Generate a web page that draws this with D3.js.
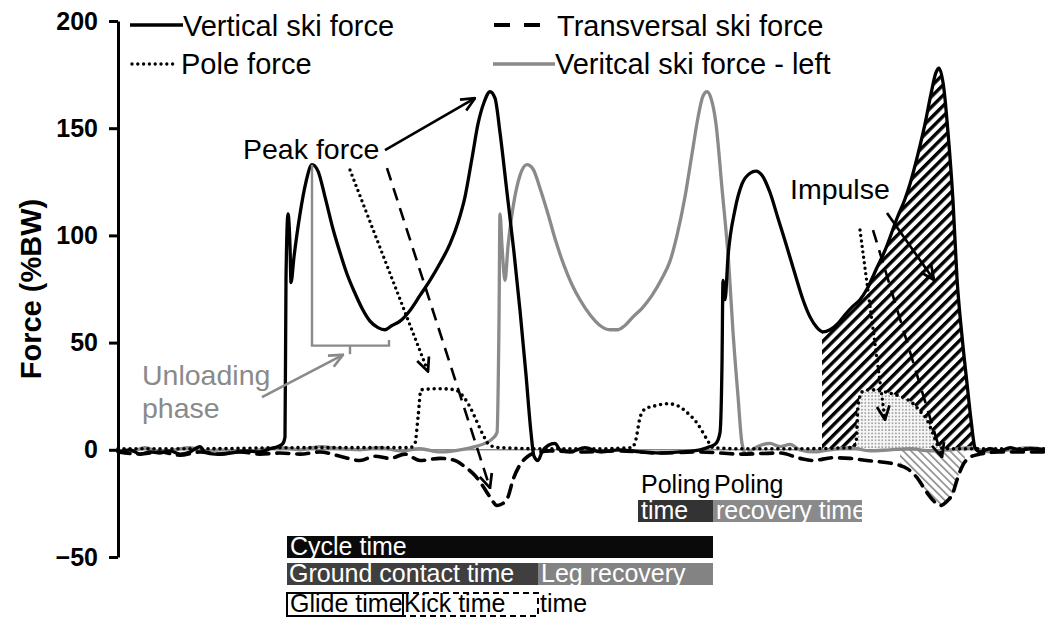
<!DOCTYPE html>
<html>
<head>
<meta charset="utf-8">
<script src="https://cdn.jsdelivr.net/npm/d3@7"></script>
<style>
  body { margin: 0; background: #fff; }
  svg { display: block; }
  text { font-family: "Liberation Sans", Arial, Helvetica, sans-serif; }
</style>
</head>
<body>
<svg id="chart" width="1045" height="619"></svg>
<script>
// ---- Data: time in ms, force in % body weight ----
const verticalRight = [
  [0,-1],[36,0],[66,-2],[96,-1],[126,-1.5],[156,-0.5],[186,-2],[216,-1],[246,1.5],[261,-1],
  [291,-2],[336,-1.5],[381,-0.5],[426,-1],[456,0.5],[480,1.5],[495,3],[501,6],[504,80],[510,110],
  [516,95],[519,78],[528,90],[546,110],[564,125],[582,133],[600,130],[621,118],[645,103],[666,92],
  [687,82],[711,73],[732,66],[756,60],[780,57],[801,56],[822,58],[846,60],[876,65],[906,72],
  [936,79],[966,87],[996,96],[1020,106],[1041,118],[1062,136],[1080,152],[1098,162],[1116,167],[1131,164],
  [1146,148],[1167,120],[1188,92],[1206,65],[1224,35],[1239,8],[1248,-3],[1260,-5],[1272,-1],[1290,2],
  [1311,3],[1326,0],[1356,-1],[1401,1],[1446,-1],[1506,0],[1566,-1],[1626,-1.5],[1686,-1],[1746,0],
  [1776,1.5],[1794,3],[1806,8],[1812,40],[1815,79],[1821,70],[1830,90],[1851,112],[1872,124],[1896,129],
  [1914,130],[1932,128],[1956,120],[1980,108],[2004,96],[2031,82],[2055,70],[2076,62],[2097,57],[2115,55],
  [2136,56],[2160,59],[2181,63],[2205,67],[2226,70],[2247,75],[2277,85],[2301,93],[2337,108],[2361,117],
  [2376,124],[2400,138],[2421,152],[2439,166],[2454,176],[2463,178],[2478,168],[2490,148],[2505,116],[2517,80],
  [2532,53],[2547,31],[2559,14],[2571,1],[2586,-1],[2616,0.5],[2646,-0.5],[2676,1],[2706,0],[2736,0.5],[2781,0]
];

const verticalLeft = [
  [0,0],[36,-1],[81,1],[126,-1],[171,0],[216,1],[261,-0.5],[306,0],[366,-1],[426,0],
  [486,1],[546,0],[606,1.5],[666,0.5],[726,0],[786,1],[846,-0.5],[906,0.5],[966,-1],[1026,0],
  [1071,1.5],[1101,3],[1122,5],[1137,8],[1143,60],[1146,110],[1152,95],[1161,79],[1170,95],[1185,113],
  [1206,128],[1227,133],[1245,131],[1266,122],[1290,110],[1314,97],[1338,86],[1362,77],[1386,70],[1416,63],
  [1446,58],[1476,56],[1500,56],[1521,58],[1545,62],[1572,66],[1602,72],[1632,80],[1656,88],[1677,100],
  [1701,118],[1722,138],[1740,155],[1755,165],[1767,167],[1779,164],[1794,152],[1812,122],[1833,85],[1845,55],
  [1860,25],[1872,3],[1884,-2],[1902,0],[1926,2],[1956,3],[1986,1.5],[2016,2.5],[2046,0],[2091,-1],
  [2136,0],[2196,1],[2256,-0.5],[2316,0],[2376,0.5],[2436,-0.5],[2496,0],[2556,1],[2616,-1],[2676,0],
  [2736,1],[2781,0]
];

const poleForce = [
  [0,0.5],[246,0.5],[546,1],[786,1],[876,1],[891,3],[900,15],[909,28],[966,28.5],[1011,28],
  [1035,25],[1056,20],[1077,13],[1095,7],[1116,2],[1146,1],[1266,0.5],[1446,0.5],[1542,1],[1554,5],
  [1566,15],[1581,19],[1611,20.5],[1650,21.5],[1680,20.5],[1710,17],[1737,12.5],[1755,8],[1770,4],[1785,1],
  [1866,0.5],[2046,0.5],[2196,1],[2214,3],[2220,20],[2232,27],[2256,28],[2325,26],[2361,24],[2382,22],
  [2406,18],[2427,14],[2445,7.5],[2460,2],[2481,0.5],[2646,0.5],[2781,0.5]
];

const transversal = [
  [0,-1],[66,-2],[126,-1],[186,-2.5],[246,-1],[306,-2],[366,-1],[426,-2],[486,-1.5],[546,-2],
  [606,-1],[666,-3],[726,-5],[771,-3],[816,-4],[861,-2],[906,-5],[966,-4],[1011,-5],[1041,-8],
  [1071,-12],[1095,-17],[1116,-22],[1137,-26],[1155,-25],[1170,-22],[1185,-14],[1206,-7],[1230,-3],[1251,-1.5],
  [1296,-0.5],[1386,-1],[1506,-0.5],[1626,-1.5],[1746,-1],[1866,-2],[1986,-1.5],[2046,-4],[2085,-5],[2145,-3.7],
  [2196,-4],[2247,-5],[2325,-6.5],[2370,-9],[2397,-13],[2427,-20],[2448,-24],[2466,-26],[2487,-24],[2505,-20],
  [2517,-14],[2535,-7],[2556,-3.5],[2586,-2],[2646,-1],[2781,-1]
];

const yTicks = [-50, 0, 50, 100, 150, 200];

// Shaded impulse windows (ms)
const impulseWindow = [2112, 2571];
const poleImpulseWindow = [2214, 2481];
const transImpulseWindow = [2346, 2541];

// Phase intervals (ms)
const phaseNames = ["cycle", "groundContact", "legRecovery", "glide", "kick", "poling", "polingRecovery"];
const phaseStart = [507, 507, 1260, 507, 855, 1560, 1785];
const phaseEnd   = [1785, 1260, 1785, 855, 1260, 1785, 2232];

const legendLabels = ["Vertical ski force", "Transversal ski force", "Pole force", "Veritcal ski force - left"];

// ---- Scales ----
const svg = d3.select("#chart");
const x = d3.scaleLinear().domain([0, 2781]).range([118, 1045]);
const y = d3.scaleLinear().domain([-50, 200]).range([557, 21]);

const FONT = '"Liberation Sans", Arial, Helvetica, sans-serif';
const GRAY = "#8a8a8a";

// ---- Patterns & markers ----
const defs = svg.append("defs");
const hatch = defs.append("pattern").attr("id", "hatch")
  .attr("patternUnits", "userSpaceOnUse").attr("width", 7.4).attr("height", 7.4)
  .attr("patternTransform", "rotate(45)");
hatch.append("rect").attr("width", 7.4).attr("height", 7.4).attr("fill", "#fff");
hatch.append("rect").attr("width", 3.4).attr("height", 7.4).attr("fill", "#000");

const hatchLight = defs.append("pattern").attr("id", "hatchLight")
  .attr("patternUnits", "userSpaceOnUse").attr("width", 5.5).attr("height", 5.5)
  .attr("patternTransform", "rotate(-45)");
hatchLight.append("rect").attr("width", 5.5).attr("height", 5.5).attr("fill", "#fff");
hatchLight.append("rect").attr("width", 1.6).attr("height", 5.5).attr("fill", "#8a8a8a");

const stipple = defs.append("pattern").attr("id", "stipple")
  .attr("patternUnits", "userSpaceOnUse").attr("width", 3.4).attr("height", 3.4);
stipple.append("rect").attr("width", 3.4).attr("height", 3.4).attr("fill", "#f6f6f6");
stipple.append("circle").attr("cx", 1.7).attr("cy", 1.7).attr("r", 0.85).attr("fill", "#8c8c8c");

function arrowMarker(id, color) {
  defs.append("marker").attr("id", id)
    .attr("markerUnits", "userSpaceOnUse")
    .attr("viewBox", "0 0 14 14").attr("refX", 13).attr("refY", 7)
    .attr("markerWidth", 16).attr("markerHeight", 16).attr("orient", "auto")
    .append("path").attr("d", "M1,1.5 L13,7 L1,12.5")
    .attr("fill", "none").attr("stroke", color).attr("stroke-width", 2.4)
    .attr("stroke-linejoin", "miter");
}
arrowMarker("arrowBlack", "#000");
arrowMarker("arrowGray", GRAY);

// ---- Helpers ----
function valueAt(series, t) {
  for (let i = 1; i < series.length; i++) {
    const [t0, v0] = series[i - 1], [t1, v1] = series[i];
    if (t >= t0 && t <= t1) return v0 + (v1 - v0) * (t - t0) / (t1 - t0);
  }
  return 0;
}
function slice(series, a, b) {
  const inner = series.filter(d => d[0] > a && d[0] < b);
  return [[a, valueAt(series, a)], ...inner, [b, valueAt(series, b)]];
}
const area = d3.area().x(d => x(d[0])).y0(y(0)).y1(d => y(d[1])).curve(d3.curveMonotoneX);
const line = d3.line().x(d => x(d[0])).y(d => y(d[1])).curve(d3.curveMonotoneX);

// ---- Impulse shading ----
const gFill = svg.append("g");
gFill.append("path").attr("d", area(slice(verticalRight, ...impulseWindow))).attr("fill", "url(#hatch)");
gFill.append("path").attr("d", area(slice(transversal, ...transImpulseWindow))).attr("fill", "url(#hatchLight)");
gFill.append("path").attr("d", area(slice(poleForce, ...poleImpulseWindow))).attr("fill", "url(#stipple)");

// ---- Zero line ----
svg.append("line")
  .attr("x1", x(0)).attr("x2", x(2781)).attr("y1", y(0)).attr("y2", y(0))
  .attr("stroke", "#555").attr("stroke-width", 1);

// ---- Force curves ----
svg.append("path").attr("d", line(verticalLeft))
  .attr("fill", "none").attr("stroke", GRAY).attr("stroke-width", 3.3).attr("stroke-linejoin", "round");
svg.append("path").attr("d", line(transversal))
  .attr("fill", "none").attr("stroke", "#000").attr("stroke-width", 3.6)
  .attr("stroke-dasharray", "12 8").attr("stroke-linecap", "round");
svg.append("path").attr("d", line(poleForce))
  .attr("fill", "none").attr("stroke", "#000").attr("stroke-width", 3.6)
  .attr("stroke-dasharray", "0 6").attr("stroke-linecap", "round");
svg.append("path").attr("d", line(verticalRight))
  .attr("fill", "none").attr("stroke", "#000").attr("stroke-width", 3.3).attr("stroke-linejoin", "round");

// ---- Y axis ----
const yAxis = d3.axisLeft(y).tickValues(yTicks).tickSize(9).tickSizeOuter(0).tickPadding(11)
  .tickFormat(d => d < 0 ? "\u2212" + Math.abs(d) : String(d));
const gAxis = svg.append("g").attr("transform", `translate(${x(0)},0)`).call(yAxis);
gAxis.select(".domain").attr("stroke", "#000").attr("stroke-width", 3);
gAxis.selectAll(".tick line").attr("stroke", "#000").attr("stroke-width", 3);
gAxis.selectAll(".tick text")
  .attr("font-family", FONT).attr("font-size", 25).attr("font-weight", "bold").attr("fill", "#000");

svg.append("text")
  .attr("transform", `translate(41,${y(75)}) rotate(-90)`)
  .attr("text-anchor", "middle").attr("font-size", 29).attr("font-weight", "bold")
  .attr("font-family", FONT).text("Force (%BW)");

// ---- Legend ----
const gLeg = svg.append("g").attr("font-family", FONT).attr("font-size", 29);
gLeg.append("line").attr("x1", 130).attr("x2", 183).attr("y1", 25).attr("y2", 25)
  .attr("stroke", "#000").attr("stroke-width", 3.3);
gLeg.append("text").attr("x", 183).attr("y", 36).text(legendLabels[0]);
gLeg.append("line").attr("x1", 494).attr("x2", 542).attr("y1", 25).attr("y2", 25)
  .attr("stroke", "#000").attr("stroke-width", 4).attr("stroke-dasharray", "16 14");
gLeg.append("text").attr("x", 557).attr("y", 36).text(legendLabels[1]);
gLeg.append("line").attr("x1", 132).attr("x2", 176).attr("y1", 64).attr("y2", 64)
  .attr("stroke", "#000").attr("stroke-width", 3.4).attr("stroke-dasharray", "0 5.8").attr("stroke-linecap", "round");
gLeg.append("text").attr("x", 181).attr("y", 74).text(legendLabels[2]);
gLeg.append("line").attr("x1", 493).attr("x2", 555).attr("y1", 64).attr("y2", 64)
  .attr("stroke", GRAY).attr("stroke-width", 3.3);
gLeg.append("text").attr("x", 555).attr("y", 74).text(legendLabels[3]);

// ---- Annotations ----
const gAnn = svg.append("g").attr("font-family", FONT).attr("font-size", 28.5);

function arrow(p0, p1, style, color) {
  const path = gAnn.append("line")
    .attr("x1", x(p0[0])).attr("y1", y(p0[1])).attr("x2", x(p1[0])).attr("y2", y(p1[1]))
    .attr("stroke", color || "#000").attr("stroke-width", 2.6)
    .attr("marker-end", color ? "url(#arrowGray)" : "url(#arrowBlack)");
  if (style === "dash") path.attr("stroke-dasharray", "13 8");
  if (style === "dot") path.attr("stroke-dasharray", "0 5.5").attr("stroke-linecap", "round").attr("stroke-width", 3.4);
}

// Peak force
gAnn.append("text").attr("x", x(375)).attr("y", y(135.5)).text("Peak force");
arrow([801, 139.8], [1071, 164], "solid");
arrow([696, 130.5], [930, 36.5], "dot");
arrow([807, 131.4], [1116, -17.8], "dash");

// Impulse
gAnn.append("text").attr("x", x(2016)).attr("y", y(117)).text("Impulse");
arrow([2307, 110.4], [2448, 79.2], "solid");
arrow([2226, 102.5], [2301, 14], "dot");
arrow([2265, 102.5], [2472, -3.4], "dash");

// Unloading phase bracket
const gBr = svg.append("g").attr("stroke", GRAY).attr("stroke-width", 2.4).attr("fill", "none");
gBr.append("path").attr("d",
  `M${x(582)},${y(133)} V${y(48.6)} H${x(813)} V${y(51.2)}`);
gBr.append("line").attr("x1", x(696)).attr("x2", x(696)).attr("y1", y(48.6)).attr("y2", y(44.6));
gAnn.append("text").attr("x", x(72)).attr("y", y(30.2)).attr("fill", GRAY).text("Unloading");
gAnn.append("text").attr("x", x(72)).attr("y", y(14.8)).attr("fill", GRAY).text("phase");
arrow([432, 24.6], [675, 44.3], "solid", GRAY);

// ---- Phase bars ----
const P = {};
phaseNames.forEach((n, i) => P[n] = [phaseStart[i], phaseEnd[i]]);
const gBar = svg.append("g").attr("font-family", FONT).attr("font-size", 25);

function bar(name, top, h, fill, stroke, dash) {
  const r = gBar.append("rect")
    .attr("x", x(P[name][0])).attr("width", x(P[name][1]) - x(P[name][0]))
    .attr("y", top).attr("height", h).attr("fill", fill);
  if (stroke) r.attr("stroke", stroke).attr("stroke-width", 2);
  if (dash) r.attr("stroke-dasharray", dash);
}
function label(name, dx, baseline, txt, color) {
  gBar.append("text").attr("x", x(P[name][0]) + dx).attr("y", baseline).attr("fill", color).text(txt);
}

bar("cycle", 536, 22, "#0a0a0a");
label("cycle", 3, 555, "Cycle time", "#fff");

bar("groundContact", 563, 22, "#3f3f3f");
bar("legRecovery", 563, 22, "#838383");
label("groundContact", 2, 582, "Ground contact time", "#fff");
label("legRecovery", 3, 582, "Leg recovery", "#fff");

bar("kick", 593, 23, "#fff", "#000", "6 4");
bar("glide", 593, 23, "#fff", "#000");
label("glide", 3, 612, "Glide time", "#000");
label("kick", 1, 612, "Kick time", "#000");
label("legRecovery", 2, 612, "time", "#000");

bar("poling", 500, 22, "#333");
bar("polingRecovery", 500, 22, "#8a8a8a");
label("poling", 3, 493, "Poling", "#000");
label("polingRecovery", 1, 493, "Poling", "#000");
label("poling", 3, 519, "time", "#fff");
label("polingRecovery", 3, 519, "recovery time", "#fff");
</script>
</body>
</html>
